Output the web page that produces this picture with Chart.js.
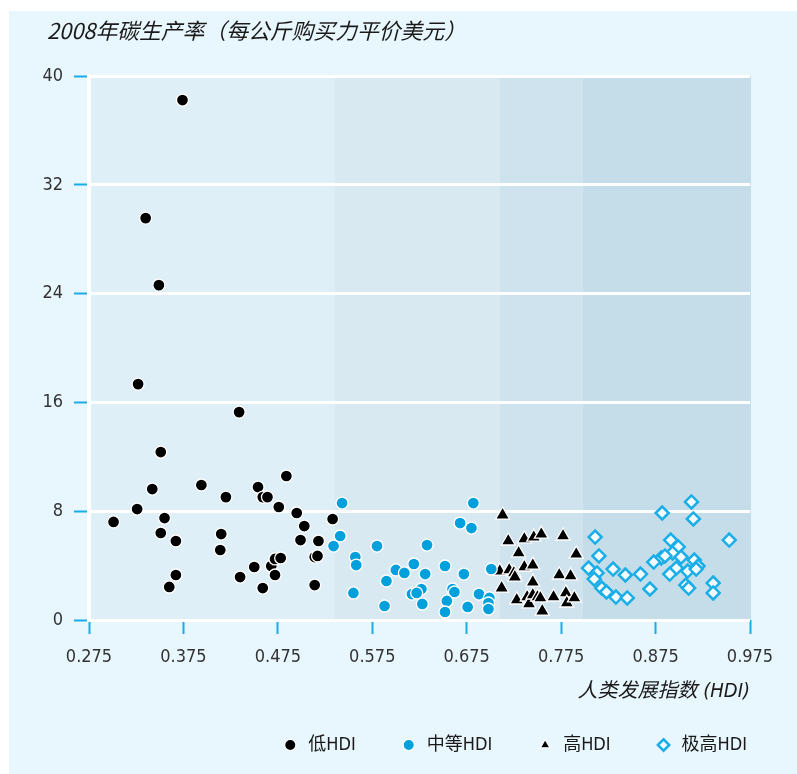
<!DOCTYPE html>
<html><head><meta charset="utf-8">
<script src="https://cdn.jsdelivr.net/npm/chart.js@4/dist/chart.umd.min.js"></script>
<style>html,body{margin:0;padding:0;background:#fff;}canvas{display:block;}</style>
</head><body>
<canvas id="c" width="797" height="774"></canvas>
<script>
const seriesNames = ['低HDI', '中等HDI', '高HDI', '极高HDI'];
const titleText = '2008年碳生产率（每公斤购买力平价美元）';
const xTitleText = '人类发展指数 (HDI)';
const xTicks = [0.275, 0.375, 0.475, 0.575, 0.675, 0.775, 0.875, 0.975];
const yTicks = [0, 8, 16, 24, 32, 40];
const bandEdges = [0.275, 0.535, 0.710, 0.798, 0.975];

const lowX = [0.374,0.335,0.349,0.327,0.434,0.351,0.484,0.394,0.454,0.342,0.459,0.464,0.420,0.476,0.495,0.503,0.499,0.518,0.533,0.514,0.517,0.514,0.326,0.301,0.355,0.351,0.367,0.415,0.414,0.367,0.360,0.435,0.450,0.468,0.472,0.478,0.472,0.459];
const lowY = [38.24,29.56,24.63,17.35,15.29,12.35,10.59,9.93,9.78,9.63,9.04,9.04,9.04,8.31,7.87,6.91,5.88,5.81,7.43,4.63,4.71,2.57,8.16,7.21,7.50,6.40,5.81,6.32,5.15,3.31,2.43,3.16,3.90,3.97,4.49,4.56,3.31,2.35];

const medX = [0.543,0.682,0.541,0.534,0.580,0.633,0.557,0.558,0.668,0.680,0.600,0.609,0.619,0.631,0.652,0.672,0.701,0.590,0.555,0.588,0.617,0.627,0.622,0.628,0.660,0.662,0.654,0.652,0.676,0.688,0.699,0.698,0.698];
const medY = [8.60,8.60,6.18,5.44,5.44,5.51,4.63,4.04,7.13,6.76,3.68,3.46,4.12,3.38,3.97,3.38,3.75,2.87,1.99,1.03,1.91,2.28,1.99,1.18,2.28,2.06,1.40,0.59,0.96,1.91,1.62,1.25,0.81];

const highX = [0.713,0.719,0.736,0.746,0.754,0.777,0.791,0.730,0.710,0.720,0.725,0.726,0.736,0.745,0.773,0.785,0.745,0.712,0.728,0.739,0.741,0.745,0.750,0.753,0.767,0.780,0.781,0.789,0.755];
const highY = [7.72,5.81,5.96,6.10,6.32,6.18,4.85,4.93,3.60,3.68,3.46,3.16,3.90,4.04,3.31,3.24,2.79,2.35,1.47,1.69,1.18,1.84,1.69,1.62,1.69,1.99,1.25,1.62,0.66];

const vhighX = [0.913,0.882,0.915,0.811,0.953,0.891,0.899,0.893,0.815,0.881,0.885,0.873,0.902,0.916,0.920,0.804,0.830,0.897,0.813,0.843,0.859,0.890,0.909,0.918,0.810,0.818,0.823,0.869,0.907,0.910,0.936,0.936,0.833,0.845];
const vhighY = [8.68,7.87,7.43,6.10,5.88,5.88,5.37,4.93,4.71,4.56,4.71,4.26,4.63,4.41,3.97,3.82,3.75,3.82,3.46,3.31,3.38,3.38,3.60,3.75,3.01,2.35,2.06,2.28,2.57,2.35,2.72,1.99,1.69,1.62];

const pts = (xs, ys) => xs.map((v, i) => ({x: v, y: ys[i]}));

Chart.defaults.font.family = "'Liberation Sans Narrow', 'DejaVu Sans Condensed', 'Noto Sans CJK SC', sans-serif";

const bgPlugin = {
  id: 'bg',
  afterLayout(chart) {
    if (chart.titleBlock) chart.titleBlock.left = 47;
  },
  beforeDraw(chart) {
    const {ctx, scales: {x, y}} = chart;
    ctx.save();
    ctx.fillStyle = '#e8f6fd';
    ctx.fillRect(9, 11, chart.width - 9, chart.height - 11);
    const cols = ['#dfeff7', '#d8e9f2', '#cfe3ee', '#c4dde9'];
    const top = y.getPixelForValue(40), bot = y.getPixelForValue(0);
    for (let i = 0; i < cols.length; i++) {
      const a = x.getPixelForValue(bandEdges[i]), b = x.getPixelForValue(bandEdges[i + 1]);
      ctx.fillStyle = cols[i];
      ctx.fillRect(a, top, b - a + (i === cols.length - 1 ? 1 : 0), bot - top);
    }
    ctx.restore();
  }
};

new Chart(document.getElementById('c'), {
  type: 'scatter',
  data: {
    datasets: [
      {label: seriesNames[0], data: pts(lowX, lowY), pointStyle: 'circle', pointRadius: 6,
       pointBackgroundColor: '#000', pointBorderColor: '#fff', pointBorderWidth: 1.3,
       backgroundColor: '#000', borderColor: '#fff'},
      {label: seriesNames[1], data: pts(medX, medY), pointStyle: 'circle', pointRadius: 6,
       pointBackgroundColor: '#00a0dc', pointBorderColor: '#fff', pointBorderWidth: 1.3,
       backgroundColor: '#00a0dc', borderColor: '#fff'},
      {label: seriesNames[2], data: pts(highX, highY), pointStyle: 'triangle', pointRadius: 8,
       pointBackgroundColor: '#000', pointBorderColor: '#fff', pointBorderWidth: 1.3,
       backgroundColor: '#000', borderColor: '#fff'},
      {label: seriesNames[3], data: pts(vhighX, vhighY), pointStyle: 'rectRot', pointRadius: 6.5,
       pointBackgroundColor: '#f4fbfe', pointBorderColor: '#1aaee8', pointBorderWidth: 2.5,
       backgroundColor: '#f4fbfe', borderColor: '#1aaee8'}
    ]
  },
  options: {
    responsive: false,
    animation: false,
    devicePixelRatio: 1,
    layout: {padding: {left: 10, right: 6, top: 10, bottom: 10}},
    plugins: {
      tooltip: {enabled: false},
      title: {
        display: true, text: titleText, align: 'start', color: '#1a1a1a',
        font: {family: "'Noto Sans CJK SC', sans-serif", size: 21.8, style: 'italic', weight: 'normal'},
        padding: {top: 8, bottom: 32}
      },
      legend: {
        position: 'bottom', align: 'end',
        labels: {
          usePointStyle: true, boxWidth: 18, boxHeight: 8, padding: 44, color: '#1a1a1a',
          font: {family: "'Liberation Sans Narrow', 'DejaVu Sans Condensed', 'Noto Sans CJK SC', sans-serif", size: 18}
        }
      }
    },
    scales: {
      x: {
        type: 'linear', min: 0.275, max: 0.975,
        afterBuildTicks: s => { s.ticks = xTicks.map(v => ({value: v})); },
        afterFit: s => { s.height = 72; },
        grid: {drawOnChartArea: false, drawTicks: true, tickLength: 14, tickColor: '#19ade6', tickWidth: 2},
        border: {display: false},
        ticks: {padding: 13, color: '#333', font: {size: 18}, maxRotation: 0, autoSkip: false,
                callback: v => Number(v).toFixed(3)},
        title: {display: true, text: xTitleText, align: 'end', color: '#1a1a1a',
                font: {family: "'Liberation Sans Narrow', 'DejaVu Sans Condensed', 'Noto Sans CJK SC', sans-serif", size: 20, style: 'italic'},
                padding: {top: 0, bottom: -12}}
      },
      y: {
        min: 0, max: 40,
        afterBuildTicks: s => { s.ticks = yTicks.map(v => ({value: v})); },
        afterFit: s => { s.width = 79; },
        grid: {color: '#ffffff', lineWidth: 3, tickLength: 15, tickColor: '#19ade6', tickWidth: 2},
        border: {display: true, color: '#ffffff', width: 4},
        ticks: {padding: 11, color: '#333', font: {size: 18}}
      },
      y2: {
        position: 'right', display: true,
        afterFit: s => { s.width = 41; },
        grid: {display: false}, border: {display: false}, ticks: {display: false}
      }
    }
  },
  plugins: [bgPlugin]
});
</script>
</body></html>
